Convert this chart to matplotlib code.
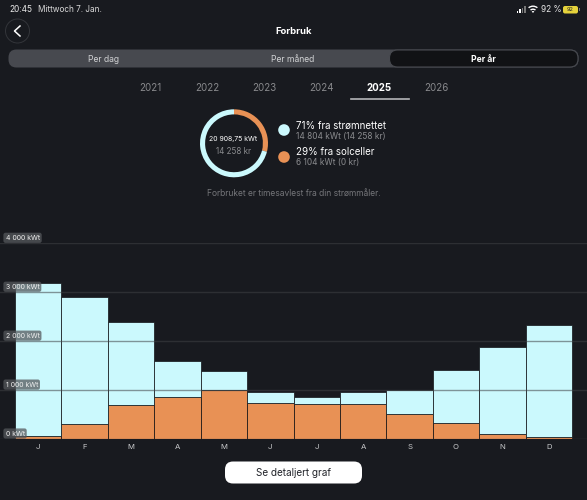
import matplotlib
matplotlib.use('Agg')
import matplotlib.pyplot as plt
from matplotlib.patches import Circle, FancyBboxPatch, Rectangle, Wedge

months = ['J', 'F', 'M', 'A', 'M', 'J', 'J', 'A', 'S', 'O', 'N', 'D']
total_kwh = [3197, 2912, 2388, 1592, 1388, 952, 857, 959, 993, 1408, 1878, 2340]
solar_kwh = [68, 313, 700, 857, 1000, 741, 707, 707, 517, 333, 102, 41]
grid_ticks = [0, 1000, 2000, 3000, 4000]
grid_labels = ['0 kWt', '1 000 kWt', '2 000 kWt', '3 000 kWt', '4 000 kWt']
years = ['2021', '2022', '2023', '2024', '2025', '2026']
tabs = ['Per dag', 'Per måned', 'Per år']
share_pct = [29, 71]

BG = '#181a1f'
BLUE = '#cbf9fd'
ORANGE = '#e89155'
W, H = 587, 500

plt.rcParams['font.family'] = ['Inter', 'DejaVu Sans']

fig = plt.figure(figsize=(W / 100, H / 100), dpi=100, facecolor=BG)

# bar chart, spans the whole width so the grid runs edge to edge
ax = fig.add_axes([0, (H - 439) / H, 1, (439 - 243.3) / H], facecolor='none')
slot = (572 - 15) / 12
ax.set_xlim(-(15 + slot / 2) / slot, (W - 15 - slot / 2) / slot)
ax.set_ylim(0, 4000)
grid_vals = [t - s for t, s in zip(total_kwh, solar_kwh)]
x = range(len(months))
ax.bar(x, solar_kwh, width=1, color=ORANGE, edgecolor='#101114', linewidth=0.5, zorder=2)
ax.bar(x, grid_vals, width=1, bottom=solar_kwh, color=BLUE, edgecolor='#101114', linewidth=0.5, zorder=2)
ax.set_yticks(grid_ticks)
ax.set_yticklabels([])
ax.tick_params(length=0)
ax.yaxis.grid(True, color='#404245', alpha=0.55, linewidth=1, zorder=3)
ax.set_axisbelow(False)
ax.xaxis.grid(False)
ax.set_xticks(list(x))
ax.set_xticklabels(months, color='#c9cacc', fontsize=5.6)
ax.tick_params(axis='x', pad=3.5)
for s in ax.spines.values():
    s.set_visible(False)
for val, lab in zip(grid_ticks, grid_labels):
    ax.annotate(lab, xy=(0, val), xycoords=('axes fraction', 'data'), xytext=(5.5, 5.5),
                textcoords='offset pixels', color='#f0f0f0', fontsize=5, va='center', zorder=5,
                bbox=dict(boxstyle='round,pad=0.3', fc='#55585c', ec='none', alpha=0.75))

# everything else is laid out in pixels
ui = fig.add_axes([0, 0, 1, 1], facecolor='none')
ui.set_xlim(0, W)
ui.set_ylim(H, 0)
ui.axis('off')


def pill(x0, y0, w, h, r, **kw):
    ui.add_patch(FancyBboxPatch((x0 + r, y0 + r), w - 2 * r, h - 2 * r,
                                boxstyle=f'round,pad={r},rounding_size={r}', **kw))


# status bar
ui.text(9, 9.5, '20:45', color='#e8e8e8', fontsize=6, va='center')
ui.text(38, 9.5, 'Mittwoch 7. Jan.', color='#d8d8d8', fontsize=5.9, va='center')
for i, (bh, col) in enumerate(zip([2, 3.5, 5, 6.5], ['white', 'white', '#777777', '#777777'])):
    ui.add_patch(Rectangle((516.5 + i * 2.5, 12.5 - bh), 1.7, bh, color=col, lw=0))
# y runs downwards here, so the wifi arcs open towards 270 degrees
ui.add_patch(Wedge((533, 13), 7.5, 230, 310, width=1.4, color='white', lw=0))
ui.add_patch(Wedge((533, 13), 4.5, 230, 310, width=1.4, color='white', lw=0))
ui.add_patch(Wedge((533, 13), 2, 230, 310, color='white', lw=0))
ui.text(541, 9.5, '92 %', color='#e8e8e8', fontsize=6, va='center')
pill(563, 6, 15, 7.5, 2, fc='#e6d33c', ec='none')
ui.add_patch(Rectangle((578.5, 8.3), 1.2, 3, color='#777777', lw=0))
ui.text(570.5, 9.7, '92', color='#222222', fontsize=4, va='center', ha='center')

# header
ui.add_patch(Circle((17.5, 31), 12, fc='none', ec='#33353a', lw=0.7))
ui.plot([20, 14.5, 20], [26, 31, 36], color='white', lw=1.1)
ui.text(293.5, 31, 'Forbruk', color='white', fontsize=6.8, fontweight='bold', ha='center', va='center')

# period selector
pill(8.5, 49.5, 570, 18, 8, fc='#47494f', ec='none')
pill(389.5, 50, 188.5, 17, 8, fc='#111215', ec='#47494f', lw=0.8)
for tab, cx, col, fw in zip(tabs, [103, 293, 483.5], ['#d0d1d3', '#d0d1d3', 'white'], ['normal', 'normal', 'bold']):
    ui.text(cx, 59, tab, color=col, fontsize=6.2, fontweight=fw, ha='center', va='center')

# year selector
for i, yr in enumerate(years):
    sel = yr == '2025'
    ui.text(150 + i * 57.2, 88, yr, color='white' if sel else '#88898c', fontsize=7,
            fontweight='bold' if sel else 'normal', ha='center', va='center')
ui.plot([351, 408.5], [98.5, 98.5], color='#b5b6b8', lw=1.2)

# share donut
donut = fig.add_axes([(234 - 34) / W, (H - 143.3 - 34) / H, 68 / W, 68 / H], facecolor='none')
donut.pie(share_pct, colors=[ORANGE, BLUE], startangle=90, counterclock=False, radius=1,
          wedgeprops=dict(width=0.15, linewidth=0))
donut.set_xlim(-1, 1)
donut.set_ylim(-1, 1)
ui.text(233.5, 138.5, '20 908,75 kWt', color='white', fontsize=5, ha='center', va='center')
ui.text(233.5, 152, '14 258 kr', color='#8b8c8f', fontsize=5.8, ha='center', va='center')

# legend beside the donut
ui.add_patch(Circle((284, 130), 5.8, fc=BLUE, ec='none'))
ui.add_patch(Circle((284, 157), 5.8, fc=ORANGE, ec='none'))
ui.text(296, 125.5, '71% fra strømnettet', color='white', fontsize=7, va='center')
ui.text(296, 136, '14 804 kWt (14 258 kr)', color='#8b8c8f', fontsize=6, va='center')
ui.text(296, 152, '29% fra solceller', color='white', fontsize=7, va='center')
ui.text(296, 162.5, '6 104 kWt (0 kr)', color='#8b8c8f', fontsize=6, va='center')
ui.text(293.5, 193, 'Forbruket er timesavlest fra din strømmåler.', color='#75767a', fontsize=6.1,
        ha='center', va='center')

# button
pill(225, 461.5, 137, 22, 8, fc='white', ec='none')
ui.text(293.5, 472.5, 'Se detaljert graf', color='#22242a', fontsize=7.2, ha='center', va='center')

fig.savefig('out.png', dpi=100, facecolor=BG)
